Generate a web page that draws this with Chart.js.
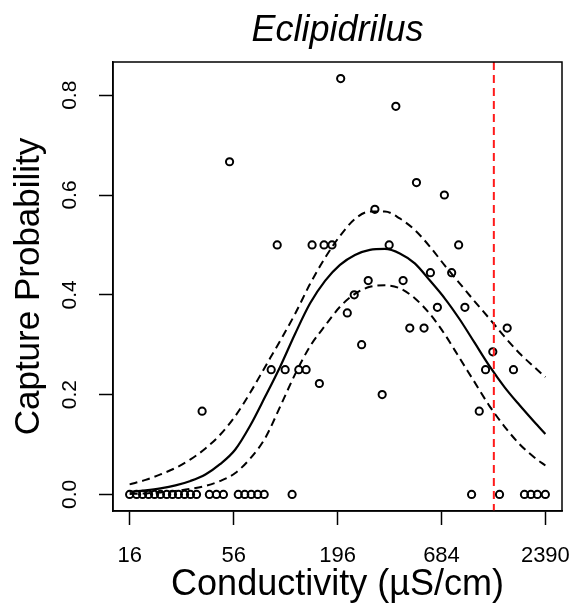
<!DOCTYPE html>
<html>
<head>
<meta charset="utf-8">
<script src="https://cdn.jsdelivr.net/npm/chart.js@4/dist/chart.umd.min.js"></script>
<style>
html,body{margin:0;padding:0;background:#ffffff;}
#wrap{width:575px;height:608px;}
</style>
</head>
<body>
<div id="wrap"><canvas id="c" width="575" height="608"></canvas></div>
<script>
// ---- data ----
const xTickValues = [16, 56, 196, 684, 2390];
const yTickValues = [0, 0.2, 0.4, 0.6, 0.8];

// observed capture probabilities (conductivity in µS/cm)
const obsConductivity = [
  16, 17.4, 18.7, 20.1, 21.6, 23.2, 25.0, 26.8, 28.8, 31.0, 33.3, 35.8,
  41.8, 45.5, 49.5, 59.2, 64.0, 69.2, 74.8, 80.9, 113.2, 983, 1376, 1858, 2008, 2171, 2390,
  38.3, 53.3, 88.0, 94.6, 104.1, 122.7, 134.0, 144.0, 157.2, 166.3, 183.0, 203.2,
  220.0, 239.2, 261.5, 283.1, 306.7, 334.9, 364.3, 394.8, 430.9, 467.0, 506.1,
  554.4, 598.7, 651.2, 708.3, 773.3, 841.0, 906.9, 1078, 1163, 1269, 1509, 1628
];
const obsProbability = [
  0, 0, 0, 0, 0, 0, 0, 0, 0, 0, 0, 0,
  0, 0, 0, 0, 0, 0, 0, 0, 0, 0, 0, 0, 0, 0, 0,
  0.1667, 0.6667, 0.25, 0.5, 0.25, 0.25, 0.25, 0.5, 0.2222, 0.5, 0.5, 0.8333,
  0.3636, 0.4, 0.3, 0.4286, 0.5714, 0.2, 0.5, 0.7778, 0.4286, 0.3333, 0.625,
  0.3333, 0.4444, 0.375, 0.6, 0.4444, 0.5, 0.375, 0.1667, 0.25, 0.2857, 0.3333, 0.25
];

// fitted curve and confidence band, read at these conductivities
const curveConductivity = [
  16, 19.39, 23.21, 27.80, 33.28, 39.85, 47.71, 57.12, 68.39, 81.89, 98.05,
  117.4, 140.6, 168.3, 201.5, 241.3, 288.9, 345.9, 414.1, 495.9, 593.7,
  710.9, 851.2, 1019, 1220, 1461, 1749, 2094, 2390
];
const fitProbability = [
  0.005, 0.008, 0.012, 0.018, 0.027, 0.040, 0.061, 0.090, 0.138, 0.196, 0.256,
  0.322, 0.383, 0.428, 0.460, 0.480, 0.490, 0.492, 0.483, 0.463, 0.429,
  0.393, 0.351, 0.304, 0.257, 0.215, 0.179, 0.145, 0.121
];
const upperProbability = [
  0.020, 0.029, 0.040, 0.053, 0.070, 0.092, 0.120, 0.157, 0.204, 0.256, 0.308,
  0.362, 0.422, 0.474, 0.518, 0.552, 0.567, 0.567, 0.553, 0.530, 0.497,
  0.459, 0.423, 0.387, 0.352, 0.316, 0.283, 0.255, 0.235
];
const lowerProbability = [
  0.001, 0.002, 0.004, 0.007, 0.011, 0.017, 0.027, 0.043, 0.072, 0.113, 0.176,
  0.241, 0.297, 0.338, 0.376, 0.402, 0.416, 0.419, 0.413, 0.393, 0.362,
  0.321, 0.273, 0.225, 0.177, 0.136, 0.101, 0.074, 0.058
];

const thresholdConductivity = 1285;

const xMin = 13.095, xMax = 2920;
const yMin = -0.0333, yMax = 0.8666;

// ---- chart ----
const FONT = "'Liberation Sans', Arial, Helvetica, sans-serif";

const toPoints = (xs, ys) => xs.map((x, i) => ({ x: x, y: ys[i] }));

const boxPlugin = {
  id: 'plotBox',
  afterDraw(chart) {
    const a = chart.chartArea;
    const ctx = chart.ctx;
    ctx.save();
    ctx.strokeStyle = '#000';
    ctx.lineWidth = 1.5;
    ctx.strokeRect(a.left, a.top, a.right - a.left, a.bottom - a.top);
    ctx.restore();
  }
};

const axisGrid = {
  display: true,
  drawOnChartArea: false,
  drawTicks: true,
  tickLength: 14,
  tickWidth: 1.5,
  tickColor: '#000'
};

new Chart(document.getElementById('c'), {
  type: 'scatter',
  data: {
    datasets: [
      {
        label: 'threshold',
        data: [{ x: thresholdConductivity, y: yMax }, { x: thresholdConductivity, y: yMin }],
        showLine: true,
        borderColor: '#ff1a1a',
        borderWidth: 2,
        borderDash: [8, 5],
        pointRadius: 0
      },
      {
        label: 'upper',
        data: toPoints(curveConductivity, upperProbability),
        showLine: true,
        borderColor: '#000',
        borderWidth: 2,
        borderDash: [8, 5],
        pointRadius: 0,
        cubicInterpolationMode: 'monotone'
      },
      {
        label: 'lower',
        data: toPoints(curveConductivity, lowerProbability),
        showLine: true,
        borderColor: '#000',
        borderWidth: 2,
        borderDash: [8, 5],
        pointRadius: 0,
        cubicInterpolationMode: 'monotone'
      },
      {
        label: 'fit',
        data: toPoints(curveConductivity, fitProbability),
        showLine: true,
        borderColor: '#000',
        borderWidth: 2.2,
        pointRadius: 0,
        cubicInterpolationMode: 'monotone'
      },
      {
        label: 'observed',
        data: toPoints(obsConductivity, obsProbability),
        showLine: false,
        pointRadius: 3.6,
        pointBorderWidth: 2,
        pointBorderColor: '#000',
        pointBackgroundColor: 'rgba(0,0,0,0)',
        borderColor: '#000'
      }
    ]
  },
  options: {
    responsive: false,
    animation: false,
    devicePixelRatio: 1,
    layout: { padding: { left: 0, right: 13, top: 0, bottom: 0 } },
    plugins: {
      legend: { display: false },
      tooltip: { enabled: false },
      title: {
        display: true,
        text: 'Eclipidrilus',
        fullSize: false,
        color: '#000',
        font: { family: FONT, size: 36, style: 'italic', weight: 'normal' },
        padding: { top: 9.4, bottom: 9.4 }
      }
    },
    scales: {
      x: {
        type: 'logarithmic',
        position: 'bottom',
        min: xMin,
        max: xMax,
        afterBuildTicks: s => { s.ticks = xTickValues.map(v => ({ value: v })); },
        afterFit: s => { s.height = 97; s.paddingLeft = 0; s.paddingRight = 0; },
        ticks: {
          callback: v => String(v),
          font: { family: FONT, size: 22 },
          color: '#000',
          padding: 17.5,
          minRotation: 0,
          maxRotation: 0,
          autoSkip: false
        },
        grid: axisGrid,
        border: { display: true, color: '#000', width: 1.5 },
        title: {
          display: true,
          text: 'Conductivity (µS/cm)',
          color: '#000',
          font: { family: FONT, size: 36 },
          padding: { top: 0, bottom: 1 }
        }
      },
      y: {
        type: 'linear',
        position: 'left',
        min: yMin,
        max: yMax,
        afterBuildTicks: s => { s.ticks = yTickValues.map(v => ({ value: v })); },
        afterFit: s => { s.width = 113; s.paddingTop = 0; s.paddingBottom = 0; },
        ticks: {
          callback: v => Number(v).toFixed(1),
          font: { family: FONT, size: 21 },
          color: '#000',
          padding: 14,
          minRotation: 90,
          maxRotation: 90,
          crossAlign: 'center',
          autoSkip: false
        },
        grid: axisGrid,
        border: { display: true, color: '#000', width: 1.5 },
        title: {
          display: true,
          text: 'Capture Probability',
          color: '#000',
          font: { family: FONT, size: 35 },
          padding: { top: 8, bottom: 0 }
        }
      }
    }
  },
  plugins: [boxPlugin]
});
</script>
</body>
</html>
